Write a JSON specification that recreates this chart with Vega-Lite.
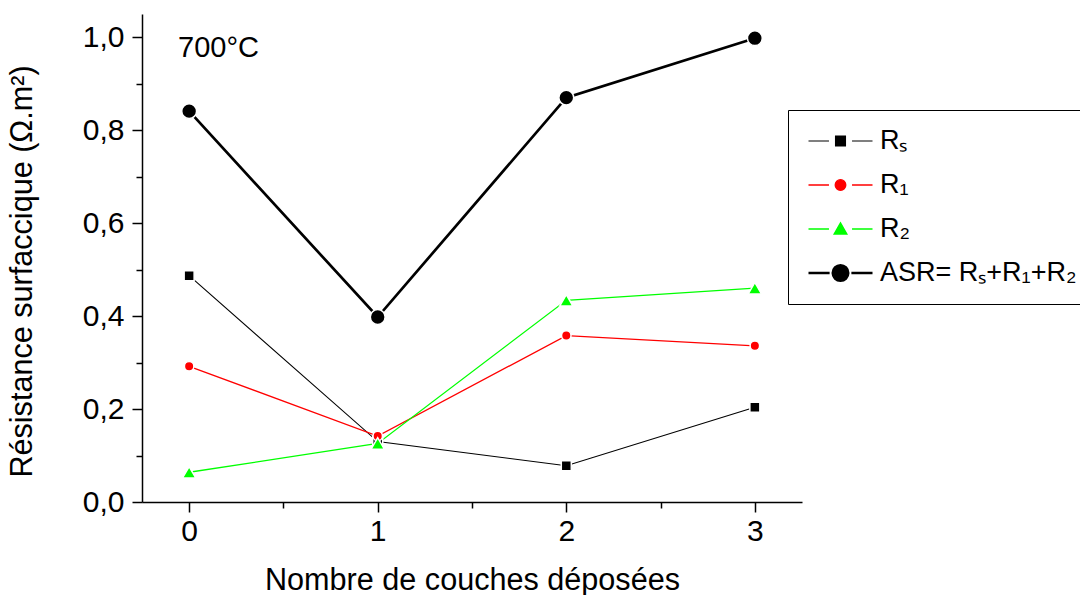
{
  "$schema": "https://vega.github.io/schema/vega-lite/v6.json",
  "width": 660,
  "height": 488,
  "autosize": {"type": "none"},
  "padding": {"left": 142, "top": 14, "right": 278, "bottom": 93},
  "background": "white",
  "config": {
    "view": {"stroke": null},
    "font": "Liberation Sans",
    "axis": {
      "grid": false,
      "domainColor": "black",
      "domainWidth": 1.5,
      "tickColor": "black",
      "tickWidth": 1.5,
      "tickSize": 10,
      "labelColor": "black",
      "labelFont": "Liberation Sans",
      "labelFontSize": 30,
      "labelFlush": false,
      "labelOverlap": false,
      "titleColor": "black",
      "titleFont": "Liberation Sans",
      "titleFontSize": 30.6,
      "titleFontWeight": "normal"
    }
  },
  "data": {
    "values": [
      {"serie": "Rs", "n": 0, "v": 0.487},
      {"serie": "Rs", "n": 1, "v": 0.13},
      {"serie": "Rs", "n": 2, "v": 0.078},
      {"serie": "Rs", "n": 3, "v": 0.204},
      {"serie": "R1", "n": 0, "v": 0.292},
      {"serie": "R1", "n": 1, "v": 0.142},
      {"serie": "R1", "n": 2, "v": 0.358},
      {"serie": "R1", "n": 3, "v": 0.336},
      {"serie": "R2", "n": 0, "v": 0.064},
      {"serie": "R2", "n": 1, "v": 0.126},
      {"serie": "R2", "n": 2, "v": 0.434},
      {"serie": "R2", "n": 3, "v": 0.46},
      {"serie": "ASR", "n": 0, "v": 0.841},
      {"serie": "ASR", "n": 1, "v": 0.398},
      {"serie": "ASR", "n": 2, "v": 0.87},
      {"serie": "ASR", "n": 3, "v": 0.998}
    ]
  },
  "layer": [
    {
      "mark": {"type": "line", "opacity": 1},
      "encoding": {
        "x": {
          "field": "n", "type": "quantitative",
          "scale": {"domain": [-0.25, 3.25], "nice": false, "zero": false},
          "axis": {
            "title": "Nombre de couches déposées",
            "values": [0, 0.5, 1, 1.5, 2, 2.5, 3],
            "labelExpr": "datum.value % 1 == 0 ? format(datum.value, 'd') : ''",
            "tickDash": {"condition": {"test": "datum.value % 1 != 0", "value": [6, 30]}, "value": [1000, 0]},
            "labelPadding": 4,
            "titleBaseline": "alphabetic",
            "titleY": 87
          }
        },
        "y": {
          "field": "v", "type": "quantitative",
          "scale": {"domain": [0, 1.05], "nice": false, "zero": false},
          "axis": {
            "title": "Résistance surfaccique (Ω.m²)",
            "values": [0, 0.1, 0.2, 0.3, 0.4, 0.5, 0.6, 0.7, 0.8, 0.9, 1.0],
            "labelExpr": "round(datum.value * 10) % 2 == 0 ? replace(format(datum.value, '.1f'), '.', ',') : ''",
            "tickDash": {"condition": {"test": "round(datum.value * 10) % 2 == 1", "value": [6, 30]}, "value": [1000, 0]},
            "labelPadding": 8,
            "titleAngle": -90,
            "titleBaseline": "alphabetic",
            "titleAlign": "center",
            "titleX": -111,
            "titleY": 257
          }
        },
        "color": {
          "field": "serie", "type": "nominal",
          "scale": {"domain": ["Rs", "R1", "R2", "ASR"], "range": ["#000000", "#ff0000", "#00ff00", "#000000"]},
          "legend": {
            "orient": "none",
            "legendX": 646,
            "legendY": 96,
            "title": null,
            "strokeColor": "black",
            "fillColor": "white",
            "padding": 9,
            "rowPadding": 0,
            "clipHeight": 44,
            "symbolSize": 4096,
            "symbolOffset": 10,
            "labelOffset": 6,
            "labelFont": "Liberation Sans",
            "labelFontSize": 27,
            "labelColor": "black",
            "labelLimit": 500,
            "labelExpr": "datum.value == 'Rs' ? 'Rₛ' : datum.value == 'R1' ? 'R₁' : datum.value == 'R2' ? 'R₂' : 'ASR= Rₛ+R₁+R₂'",
            "symbolType": {"expr": "datum.value == 'Rs' ? 'M-1,0H-0.36M0.36,0H1M-0.156,-0.156H0.156V0.156H-0.156Z' : datum.value == 'R1' ? 'M-1,0H-0.36M0.36,0H1M-0.166,0A0.166,0.166,0,1,0,0.166,0A0.166,0.166,0,1,0,-0.166,0Z' : datum.value == 'R2' ? 'M-1,0H-0.36M0.36,0H1M0,-0.19L0.2,0.16L-0.2,0.16Z' : 'M-1,0H-0.34M0.34,0H1M-0.24,0A0.24,0.24,0,1,0,0.24,0A0.24,0.24,0,1,0,-0.24,0Z'"},
            "symbolFillColor": {"expr": "datum.value == 'R1' ? '#ff0000' : datum.value == 'R2' ? '#00ff00' : '#000000'"},
            "symbolOpacity": 1
          }
        },
        "strokeWidth": {
          "field": "serie", "type": "nominal",
          "scale": {"type": "ordinal", "domain": ["Rs", "R1", "R2", "ASR"], "range": [1.1, 1.3, 1.3, 2.7]},
          "legend": null
        }
      }
    },
    {
      "transform": [{"filter": "datum.serie == 'Rs'"}],
      "mark": {"type": "point", "shape": "square", "size": 100, "filled": true, "opacity": 1, "color": "#000000", "stroke": "white", "strokeWidth": 1.5},
      "encoding": {
        "x": {"field": "n", "type": "quantitative"},
        "y": {"field": "v", "type": "quantitative"}
      }
    },
    {
      "transform": [{"filter": "datum.serie == 'R1'"}],
      "mark": {"type": "point", "shape": "circle", "size": 90, "filled": true, "opacity": 1, "color": "#ff0000", "stroke": "white", "strokeWidth": 1.5},
      "encoding": {
        "x": {"field": "n", "type": "quantitative"},
        "y": {"field": "v", "type": "quantitative"}
      }
    },
    {
      "transform": [{"filter": "datum.serie == 'R2'"}],
      "mark": {"type": "point", "shape": "triangle-up", "size": 175, "filled": true, "opacity": 1, "color": "#00ff00", "stroke": "white", "strokeWidth": 1.5},
      "encoding": {
        "x": {"field": "n", "type": "quantitative"},
        "y": {"field": "v", "type": "quantitative"}
      }
    },
    {
      "transform": [{"filter": "datum.serie == 'ASR'"}],
      "mark": {"type": "point", "shape": "circle", "size": 220, "filled": true, "opacity": 1, "color": "#000000", "stroke": "white", "strokeWidth": 1.5},
      "encoding": {
        "x": {"field": "n", "type": "quantitative"},
        "y": {"field": "v", "type": "quantitative"}
      }
    },
    {
      "data": {"values": [{"n": -0.059, "v": 0.958, "t": "700°C"}]},
      "mark": {"type": "text", "align": "left", "baseline": "alphabetic", "font": "Liberation Sans", "fontSize": 29, "color": "black"},
      "encoding": {
        "x": {"field": "n", "type": "quantitative"},
        "y": {"field": "v", "type": "quantitative"},
        "text": {"field": "t", "type": "nominal"}
      }
    }
  ]
}
